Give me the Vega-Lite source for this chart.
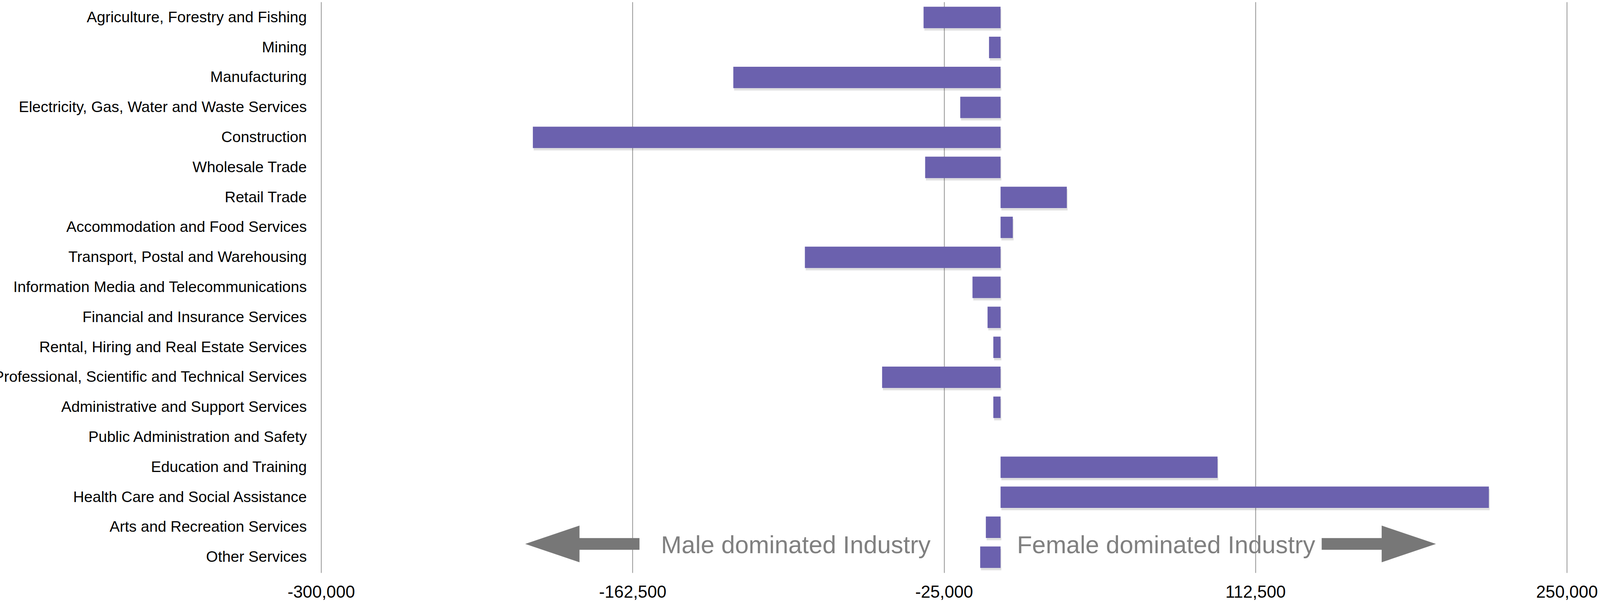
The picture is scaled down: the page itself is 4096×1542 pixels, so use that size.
{
  "$schema": "https://vega.github.io/schema/vega-lite/v6.json",
  "autosize": "none",
  "width": 3189,
  "height": 1462,
  "padding": {"left": 822, "top": 5, "right": 85, "bottom": 75},
  "background": "#ffffff",
  "config": {"view": {"stroke": null}},
  "datasets": {
    "industries": [
      {"industry": "Agriculture, Forestry and Fishing", "difference": -34000},
      {"industry": "Mining", "difference": -5100},
      {"industry": "Manufacturing", "difference": -118000},
      {"industry": "Electricity, Gas, Water and Waste Services", "difference": -17800},
      {"industry": "Construction", "difference": -206500},
      {"industry": "Wholesale Trade", "difference": -33300},
      {"industry": "Retail Trade", "difference": 29250},
      {"industry": "Accommodation and Food Services", "difference": 5400},
      {"industry": "Transport, Postal and Warehousing", "difference": -86400},
      {"industry": "Information Media and Telecommunications", "difference": -12400},
      {"industry": "Financial and Insurance Services", "difference": -5750},
      {"industry": "Rental, Hiring and Real Estate Services", "difference": -3200},
      {"industry": "Professional, Scientific and Technical Services", "difference": -52300},
      {"industry": "Administrative and Support Services", "difference": -3200},
      {"industry": "Public Administration and Safety", "difference": 0},
      {"industry": "Education and Training", "difference": 95800},
      {"industry": "Health Care and Social Assistance", "difference": 215600},
      {"industry": "Arts and Recreation Services", "difference": -6500},
      {"industry": "Other Services", "difference": -9000}
    ],
    "notes": [
      {"label": "Male dominated Industry", "at": -90400, "row": "Other Services"},
      {"label": "Female dominated Industry", "at": 73100, "row": "Other Services"}
    ],
    "arrows": [
      {"direction": "male", "at": -184650, "row": "Other Services"},
      {"direction": "female", "at": 167000, "row": "Other Services"}
    ]
  },
  "layer": [
    {
      "data": {"name": "industries"},
      "mark": {"type": "bar", "color": "#000000", "opacity": 0.12, "yOffset": 6, "xOffset": 2},
      "encoding": {
        "y": {
          "field": "industry", "type": "nominal", "sort": null,
          "scale": {"paddingInner": 0.286, "paddingOuter": 0.16},
          "axis": {
            "title": null, "domain": false, "ticks": false, "tickSize": 0, "grid": false,
            "labelPadding": 37, "labelFont": "Liberation Sans", "labelFontSize": 39,
            "labelColor": "#000000", "labelLimit": 2000
          }
        },
        "x": {
          "field": "difference", "type": "quantitative",
          "scale": {"domain": [-300000, 250000], "nice": false, "zero": false},
          "axis": {
            "title": null, "domain": false, "ticks": false, "tickSize": 0,
            "values": [-300000, -162500, -25000, 112500, 250000],
            "labelExpr": "replace(format(datum.value, ','), '\u2212', '-')",
            "labelPadding": 28, "labelFont": "Liberation Sans", "labelFontSize": 43.7,
            "labelColor": "#000000", "labelOverlap": false, "labelFlush": false,
            "grid": true, "gridColor": "#888888", "gridWidth": 1.8
          }
        }
      }
    },
    {
      "data": {"name": "industries"},
      "mark": {"type": "bar", "color": "#6b61ae"},
      "encoding": {
        "y": {"field": "industry", "type": "nominal", "sort": null},
        "x": {"field": "difference", "type": "quantitative"}
      }
    },
    {
      "mark": {"type": "rule", "color": "#888888", "strokeWidth": 2},
      "encoding": {"x": {"datum": 0}}
    },
    {
      "data": {"name": "arrows"},
      "mark": {"type": "point", "filled": true, "opacity": 1, "color": "#777777", "strokeWidth": 0, "size": 85556, "yOffset": -34},
      "encoding": {
        "x": {"field": "at", "type": "quantitative"},
        "y": {"field": "row", "type": "nominal", "sort": null},
        "shape": {
          "field": "direction", "type": "nominal", "legend": null,
          "scale": {
            "domain": ["male", "female"],
            "range": [
              "M-1,0L-0.05,-0.321L-0.05,-0.103L1,-0.103L1,0.103L-0.05,0.103L-0.05,0.321Z",
              "M1,0L0.05,-0.321L0.05,-0.103L-1,-0.103L-1,0.103L0.05,0.103L0.05,0.321Z"
            ]
          }
        }
      }
    },
    {
      "data": {"name": "notes"},
      "mark": {"type": "text", "align": "center", "baseline": "alphabetic", "font": "Liberation Sans", "fontSize": 63, "fontWeight": 300, "color": "#808080", "yOffset": -10},
      "encoding": {
        "x": {"field": "at", "type": "quantitative"},
        "y": {"field": "row", "type": "nominal", "sort": null},
        "text": {"field": "label"}
      }
    }
  ]
}
